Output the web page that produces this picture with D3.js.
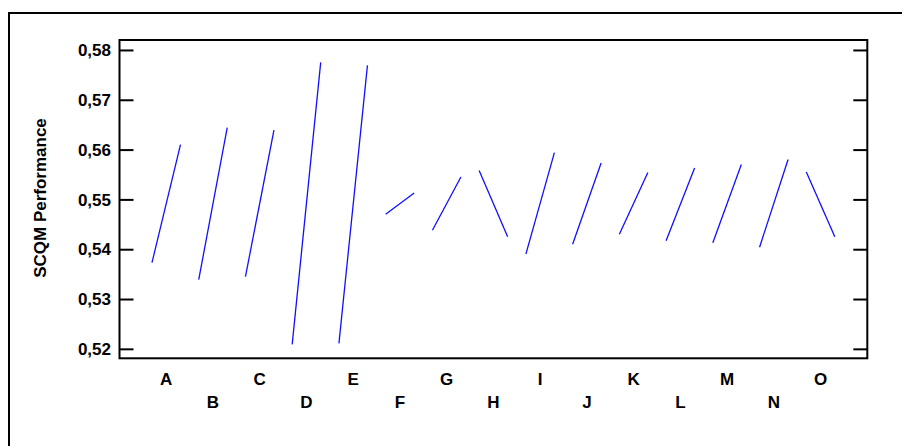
<!DOCTYPE html>
<html>
<head>
<meta charset="utf-8">
<script src="https://cdn.jsdelivr.net/npm/d3@7"></script>
<style>
  html, body { margin: 0; padding: 0; background: #fff; }
  svg { display: block; }
  text { font-family: "Liberation Sans", Arial, sans-serif; font-weight: bold; fill: #000; }
</style>
</head>
<body>
<svg id="chart" width="902" height="446"></svg>
<script>
const factors = ["A","B","C","D","E","F","G","H","I","J","K","L","M","N","O"];
const lowValues  = [0.5373,0.5339,0.5345,0.5209,0.5211,0.5470,0.5438,0.5558,0.5390,0.5410,0.5430,0.5417,0.5413,0.5404,0.5555];
const highValues = [0.5610,0.5644,0.5639,0.5775,0.5769,0.5513,0.5545,0.5425,0.5594,0.5573,0.5554,0.5563,0.5570,0.5580,0.5425];
const yTicks = [0.52,0.53,0.54,0.55,0.56,0.57,0.58];
const yTitle = "SCQM Performance";

const svg = d3.select("#chart");
const W = 902, H = 446;
const plot = { left: 119.5, top: 40, right: 867.3, bottom: 358.3 };

svg.append("rect").attr("width", W).attr("height", H).attr("fill", "#fff");

// outer frame (extends beyond the picture at right and bottom)
svg.append("path")
  .attr("d", `M9,${H+5} L9,13 L${W+5},13`)
  .attr("fill", "none").attr("stroke", "#000").attr("stroke-width", 2);

const x = d3.scalePoint().domain(factors).range([plot.left, plot.right]).padding(1);
const y = d3.scaleLinear().domain([0.5181, 0.5820]).range([plot.bottom, plot.top]);
const step = x.step();
const fmt = v => d3.format(".2f")(v).replace(".", ",");

// plot frame
svg.append("rect")
  .attr("x", plot.left).attr("y", plot.top)
  .attr("width", plot.right - plot.left).attr("height", plot.bottom - plot.top)
  .attr("fill", "none").attr("stroke", "#000").attr("stroke-width", 2);

// left axis (inward ticks)
const leftAxis = d3.axisRight(y).tickValues(yTicks).tickSize(14).tickFormat("");
const gL = svg.append("g").attr("transform", `translate(${plot.left},0)`).call(leftAxis);
gL.select(".domain").remove();
gL.selectAll("line").attr("stroke", "#000").attr("stroke-width", 2);

// left tick labels
svg.append("g").selectAll("text").data(yTicks).join("text")
  .attr("x", 111).attr("y", d => y(d)).attr("dy", "0.36em")
  .attr("text-anchor", "end").attr("font-size", 17)
  .text(fmt);

// right axis (inward ticks)
const rightAxis = d3.axisLeft(y).tickValues(yTicks).tickSize(14).tickFormat("");
const gR = svg.append("g").attr("transform", `translate(${plot.right},0)`).call(rightAxis);
gR.select(".domain").remove();
gR.selectAll("line").attr("stroke", "#000").attr("stroke-width", 2);

// x labels, two staggered rows
svg.append("g").selectAll("text").data(factors).join("text")
  .attr("x", d => x(d))
  .attr("y", (d, i) => i % 2 === 0 ? 385 : 407.7)
  .attr("text-anchor", "middle").attr("font-size", 17)
  .text(d => d);

// y title
svg.append("text")
  .attr("transform", `translate(46,198) rotate(-90)`)
  .attr("text-anchor", "middle").attr("font-size", 17)
  .text(yTitle);

// main effect lines
const data = factors.map((f, i) => ({ f, lo: lowValues[i], hi: highValues[i] }));
svg.append("g").selectAll("line").data(data).join("line")
  .attr("x1", d => x(d.f) - 0.305 * step)
  .attr("x2", d => x(d.f) + 0.305 * step)
  .attr("y1", d => y(d.lo))
  .attr("y2", d => y(d.hi))
  .attr("stroke", "#1010ff").attr("stroke-width", 1.3);
</script>
</body>
</html>
